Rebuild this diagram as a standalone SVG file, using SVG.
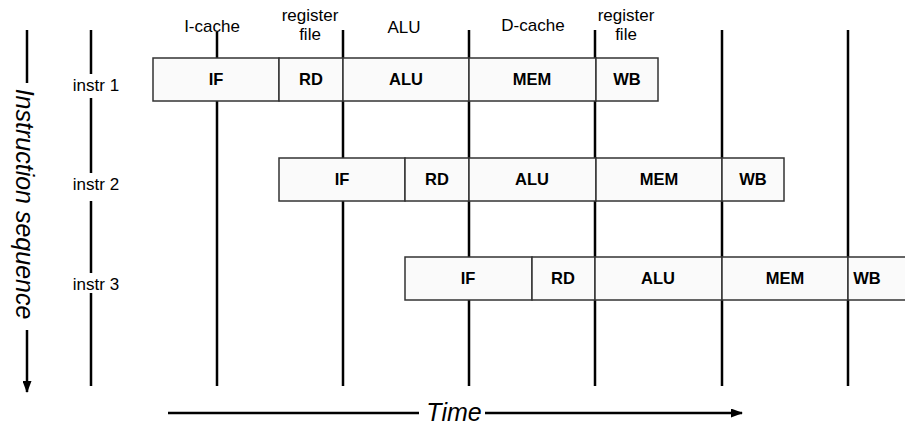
<svg xmlns="http://www.w3.org/2000/svg" width="905" height="425" viewBox="0 0 905 425">
<style>
.grid{stroke:#000;stroke-width:2.5;fill:none}
.cell{fill:#fafafa;stroke:#333;stroke-width:1.5}
.lbl{font-family:"Liberation Sans",Arial,sans-serif;font-size:17px;fill:#000;text-anchor:middle}
.stg{font-family:"Liberation Sans",Arial,sans-serif;font-size:16.5px;font-weight:bold;fill:#000;text-anchor:middle}
.big{font-family:"Liberation Sans",Arial,sans-serif;font-size:25px;font-style:italic;fill:#000;text-anchor:middle}
.ax{stroke:#000;stroke-width:2.5;fill:none}
</style>
<defs>
<marker id="ah" markerWidth="12" markerHeight="9" refX="11" refY="4.5" orient="auto" markerUnits="userSpaceOnUse">
<path d="M0,0 L12,4.5 L0,9 z" fill="#000"/>
</marker>
</defs>
<rect width="905" height="425" fill="#fff"/>
<g id="connectors">
<line class="grid" x1="91" y1="30" x2="91" y2="386"/>
<line class="grid" x1="217" y1="32" x2="217" y2="386"/>
<line class="grid" x1="343" y1="30" x2="343" y2="386"/>
<line class="grid" x1="469" y1="30" x2="469" y2="386"/>
<line class="grid" x1="595" y1="30" x2="595" y2="386"/>
<line class="grid" x1="722" y1="30" x2="722" y2="386"/>
<line class="grid" x1="848" y1="30" x2="848" y2="386"/>
<line class="ax" x1="27" y1="30" x2="27" y2="83"/>
<line class="ax" x1="27" y1="330" x2="27" y2="392" marker-end="url(#ah)"/>
<line class="ax" x1="168" y1="413" x2="419" y2="413"/>
<line class="ax" x1="485" y1="413" x2="742" y2="413" marker-end="url(#ah)"/>
</g>
<g id="headers">
<text class="lbl" x="212" y="32">I-cache</text>
<text class="lbl" x="310" y="21">register</text>
<text class="lbl" x="310" y="40">file</text>
<text class="lbl" x="404" y="33">ALU</text>
<text class="lbl" x="533" y="31">D-cache</text>
<text class="lbl" x="626" y="21">register</text>
<text class="lbl" x="626" y="40">file</text>
</g>
<g id="axis-labels">
<text class="big" transform="translate(15.5,204) rotate(90)">Instruction sequence</text>
<rect x="422" y="400" width="62" height="25" fill="#fff"/>
<text class="big" x="454" y="421">Time</text>
</g>
<g id="instr1">
<rect x="70" y="74" width="52" height="24" fill="#fff"/>
<text class="lbl" x="96" y="91">instr 1</text>
<rect class="cell" x="153" y="58" width="126" height="43"/><text class="stg" x="216" y="85">IF</text>
<rect class="cell" x="279" y="58" width="64" height="43"/><text class="stg" x="311" y="85">RD</text>
<rect class="cell" x="343" y="58" width="126" height="43"/><text class="stg" x="406" y="85">ALU</text>
<rect class="cell" x="469" y="58" width="127" height="43"/><text class="stg" x="532" y="85">MEM</text>
<rect class="cell" x="596" y="58" width="62" height="43"/><text class="stg" x="627" y="85">WB</text>
</g>
<g id="instr2">
<rect x="70" y="173" width="52" height="28" fill="#fff"/>
<text class="lbl" x="96" y="190">instr 2</text>
<rect class="cell" x="279" y="158" width="126" height="43"/><text class="stg" x="342" y="185">IF</text>
<rect class="cell" x="405" y="158" width="64" height="43"/><text class="stg" x="437" y="185">RD</text>
<rect class="cell" x="469" y="158" width="127" height="43"/><text class="stg" x="532" y="185">ALU</text>
<rect class="cell" x="596" y="158" width="126" height="43"/><text class="stg" x="659" y="185">MEM</text>
<rect class="cell" x="722" y="158" width="62" height="43"/><text class="stg" x="753" y="185">WB</text>
</g>
<g id="instr3">
<rect x="70" y="273" width="52" height="20" fill="#fff"/>
<text class="lbl" x="96" y="290">instr 3</text>
<rect class="cell" x="405" y="257" width="127" height="43"/><text class="stg" x="468" y="284">IF</text>
<rect class="cell" x="532" y="257" width="63" height="43"/><text class="stg" x="563" y="284">RD</text>
<rect class="cell" x="595" y="257" width="127" height="43"/><text class="stg" x="658" y="284">ALU</text>
<rect class="cell" x="722" y="257" width="126" height="43"/><text class="stg" x="785" y="284">MEM</text>
<rect class="cell" x="848" y="257" width="62" height="43"/><text class="stg" x="867" y="284">WB</text>
</g>
</svg>
